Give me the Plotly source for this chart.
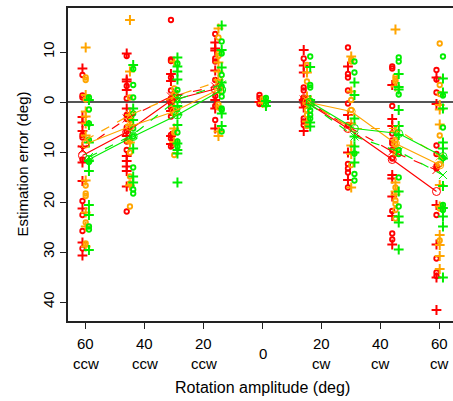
import plotly.graph_objects as go

# ---------------- data ----------------
columns = [-60, -45, -30, -15, 0, 15, 30, 45, 60]

red_o = [
    [-5.4, -1.3, -0.9, 6.6, 7.1, 11.5, 19.8, 22.6, 25.8, 29.3],
    [-9.2, -3.2, -0.7, 2.6, 3.4, 5.1, 5.9, 7.9, 9.6, 21.9],
    [-16.4, -8.5, -8.2, -4.9, -2.3, -0.7, 0.3, 1.1, 2.9, 6.6, 7.3, 8.9],
    [-13.6, -8.7, -8.1, -4.4, -1.2, 0.8, 3.6],
    [-1.4, -0.8, 0.4],
    [-8.7, -2.9, -2.3, -0.9, 0.5, 3.3, 3.9, 4.6],
    [-10.9, -5.6, -4.9, -2.3, 0.3, 4.6, 12.4, 13.3, 14.1, 17.1],
    [-7.1, -6.7, 0.8, 6.3, 7.7, 8.3, 9.6, 11.3, 21.8, 26.3, 27.5],
    [-6.4, -4.5, -1.9, 8.7, 10.4, 12.8, 13.3, 22.6, 31.3, 34.1, 34.8],
]
red_plus = [
    [-6.7, 3.0, 4.1, 5.8, 8.9, 12.1, 15.8, 21.3, 28.1, 30.7],
    [-9.7, -4.5, -4.1, -2.4, 1.3, 6.8, 10.8, 11.8, 12.9, 13.8, 16.9],
    [-5.6, -4.2, -0.5, 1.8, 6.8, 8.4],
    [-11.9, -10.7, -10.3, -6.3, -0.4, 1.3, 5.3],
    [0.0],
    [-10.4, -7.3, -5.9, -0.4, 1.1, 5.8],
    [-7.1, 2.6, 10.1, 15.6],
    [-3.4, 3.4, 4.8, 14.6, 15.3, 18.9, 22.8, 28.5],
    [-4.9, 0.4, 20.6, 28.5, 35.1, 41.6],
]
orange_o = [
    [-4.9, -4.4, -0.5, 16.7, 18.3, 18.8, 24.1, 28.3],
    [-0.9, 3.3, 3.6, 7.9, 10.1, 14.9, 16.3, 20.9],
    [-2.7, -1.5, -0.4, 2.3, 6.1, 10.6],
    [-12.9, -9.7, -9.2, -3.9, 0.5, 1.1],
    [-0.6],
    [-7.4, -4.1, 1.6, 2.6, 4.8],
    [-8.5, -8.1, -0.4, 1.6, 12.6],
    [-5.1, -4.6, -4.1, 7.6, 8.4, 10.4, 17.1, 19.7, 20.4, 21.6, 23.3],
    [-11.7, -3.4, -1.6, 6.7, 12.5, 21.3, 27.7],
]
orange_plus = [
    [-10.9, -1.4, 1.9, 2.9, 4.3, 6.7, 15.7, 22.1, 24.9, 28.9],
    [-16.4, -6.1, 2.6, 4.6, 8.1, 16.7],
    [-8.1, -1.1, 0.8, 5.3, 8.0],
    [-14.7, -7.9, -6.1, -4.4, -2.7, 5.9, 6.8],
    [0.2],
    [-5.9, -1.1, 0.3, 3.9],
    [-9.1, -2.1, 4.3, 8.7, 10.4, 17.1],
    [-14.5, -3.1, 5.9, 9.5, 16.1, 17.9, 18.5],
    [0.6, 1.5, 4.5, 16.6, 20.9, 26.6, 28.6, 30.8, 33.4],
]
green_o = [
    [-0.9, 1.5, 4.3, 7.6, 12.0, 24.9, 25.5],
    [-6.6, -3.4, -0.9, 2.3, 5.3, 6.9, 13.1, 17.5, 18.3],
    [-7.7, -2.4, -0.4, 1.3, 6.1, 7.9, 8.9],
    [-12.1, -9.7, -5.4, -3.1, -2.1, -1.1, 1.3, 1.6, 5.9],
    [-0.8, 0.5],
    [-9.1, -3.4, -2.9, 1.7, 2.6, 3.3],
    [-8.1, -5.9, 10.3, 14.4, 15.7],
    [-8.9, -8.1, -1.5, 9.6, 10.4, 15.1, 20.9],
    [-9.1, -1.3, 5.1, 11.2, 20.6, 21.6],
]
green_plus = [
    [-0.4, 4.6, 8.1, 11.8, 13.8, 20.6, 22.6, 29.6],
    [-7.4, 1.3, 3.6, 9.3, 14.9, 16.1],
    [-8.9, -7.1, -6.1, -4.5, -1.4, 0.8, 2.5, 4.6, 8.3, 9.6, 10.3, 16.1],
    [-15.3, -10.4, -6.9, -3.9, 2.3, 4.8],
    [-0.2, 0.8],
    [-7.0, -0.4, 0.6, 4.1, 4.9],
    [-3.9, -1.4, 3.3, 6.9, 8.9, 10.1, 12.1],
    [-5.6, -3.0, -2.5, 1.6, 4.8, 6.6, 17.9, 22.9, 24.1, 29.5],
    [-4.7, -1.9, 1.3, 8.1, 9.3, 11.3, 16.8, 21.2, 22.9, 24.9, 35.1],
]

# mean lines (left group -60..-15, right group 15..60)
mean_cols = [-60, -45, -30, -15, 15, 30, 45, 60]
red_solid = [10.7, 6.0, -0.3, -2.6, -0.3, 5.3, 11.5, 17.9]
red_dash = [9.5, 3.3, -1.1, -3.1, -0.5, 4.9, 9.9, 13.6]
orange_solid = [8.4, 4.9, 1.9, -2.5, 0.0, 1.9, 8.3, 12.6]
orange_dash = [7.6, 2.6, -1.1, -4.1, -0.3, 5.3, 5.3, 10.9]
green_solid = [11.5, 6.9, 2.6, -2.4, 0.0, 5.3, 6.3, 10.9]
green_dash = [11.0, 6.5, -0.5, -3.5, 0.5, 6.9, 9.9, 14.6]

x_tick_vals = [-60, -40, -20, 0, 20, 40, 60]
x_tick_nums = ["60", "40", "20", "0", "20", "40", "60"]
x_tick_dirs = ["ccw", "ccw", "ccw", "", "cw", "cw", "cw"]
y_tick_vals = [-10, 0, 10, 20, 30, 40]
y_tick_text = ["10", "0", "10", "20", "30", "40"]

# ---------------- styling ----------------
RED, ORANGE, GREEN = "#FF0000", "#FFA500", "#00EE00"
FONT = "Liberation Sans, Arial, sans-serif"
groups = [
    (RED, -1.1, red_o, red_plus, red_solid, red_dash),
    (ORANGE, 0.0, orange_o, orange_plus, orange_solid, orange_dash),
    (GREEN, 1.1, green_o, green_plus, green_solid, green_dash),
]

fig = go.Figure()


def flatten(lists, off):
    xs, ys = [], []
    for c, vals in zip(columns, lists):
        for v in vals:
            xs.append(c + off)
            ys.append(v)
    return xs, ys


for color, off, o_lists, p_lists, solid, dash in groups:
    xs, ys = flatten(o_lists, off)
    fig.add_trace(go.Scatter(x=xs, y=ys, mode="markers",
                             marker=dict(symbol="circle-open", size=4.5, color=color,
                                         line=dict(width=1.8, color=color)),
                             showlegend=False, hoverinfo="skip"))
    xs, ys = flatten(p_lists, off)
    fig.add_trace(go.Scatter(x=xs, y=ys, mode="markers",
                             marker=dict(symbol="cross-thin-open", size=7, color=color,
                                         line=dict(width=2, color=color)),
                             showlegend=False, hoverinfo="skip"))

for color, off, o_lists, p_lists, solid, dash in groups:
    for vals, dstyle, sym in ((solid, "solid", "circle-open"), (dash, "dash", "x-thin-open")):
        xs, ys = [], []
        for i, (c, v) in enumerate(zip(mean_cols, vals)):
            if i == 4:
                xs.append(None)
                ys.append(None)
            xs.append(c + off)
            ys.append(v)
        fig.add_trace(go.Scatter(x=xs, y=ys, mode="lines+markers", connectgaps=False,
                                 line=dict(color=color, width=1.2, dash=dstyle),
                                 marker=dict(symbol=sym, size=8, color=color,
                                             line=dict(width=1, color=color)),
                                 showlegend=False, hoverinfo="skip"))

annotations = []
for v, num, d in zip(x_tick_vals, x_tick_nums, x_tick_dirs):
    if d:
        annotations.append(dict(x=v, y=0, xref="x", yref="paper", text=num, showarrow=False,
                                yanchor="middle", yshift=-22, font=dict(size=15)))
        annotations.append(dict(x=v, y=0, xref="x", yref="paper", text=d, showarrow=False,
                                yanchor="middle", yshift=-42, font=dict(size=15)))
    else:
        annotations.append(dict(x=v, y=0, xref="x", yref="paper", text=num, showarrow=False,
                                yanchor="middle", yshift=-32, font=dict(size=15)))
annotations.append(dict(x=0, y=0, xref="x", yref="paper", text="Rotation amplitude (deg)",
                        showarrow=False, yanchor="middle", yshift=-66, font=dict(size=16)))
annotations.append(dict(x=0, y=0.5, xref="paper", yref="paper", text="Estimation error (deg)",
                        showarrow=False, xanchor="center", yanchor="middle", xshift=-46,
                        textangle=-90, font=dict(size=15)))

fig.update_layout(
    width=453, height=401,
    margin=dict(l=68, r=0, t=8, b=80, autoexpand=False),
    paper_bgcolor="white", plot_bgcolor="white",
    font=dict(family=FONT, size=15, color="black"),
    annotations=annotations,
    xaxis=dict(range=[-66, 64.5], showgrid=False, zeroline=False, automargin=False,
               showline=True, mirror=True, linecolor="#222", linewidth=1.5,
               tickmode="array", tickvals=x_tick_vals, ticks="outside", ticklen=6,
               tickcolor="#222", tickwidth=1.2, showticklabels=False),
    yaxis=dict(range=[43.8, -18.8], showgrid=False, automargin=False,
               zeroline=True, zerolinecolor="#555", zerolinewidth=2,
               showline=True, linecolor="#222", linewidth=1.5,
               tickmode="array", tickvals=y_tick_vals, ticktext=y_tick_text,
               ticks="outside", ticklen=6, tickcolor="#222", tickwidth=1.2,
               tickangle=-90, tickfont=dict(size=15)),
)

fig.write_html("out.html", config={"displayModeBar": False},
               post_script="document.body.style.margin='0';document.body.style.overflow='hidden';")
